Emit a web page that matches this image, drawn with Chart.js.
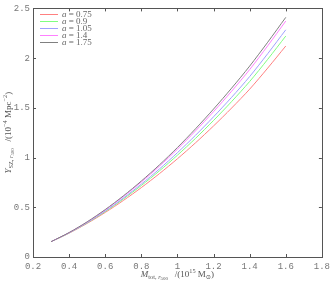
<!DOCTYPE html>
<html><head><meta charset="utf-8">
<script src="https://cdn.jsdelivr.net/npm/chart.js@4"></script>
<style>html,body{margin:0;padding:0;background:#fff}#wrap{width:334px;height:281px}</style>
</head><body><div id="wrap"><canvas id="c" width="334" height="281"></canvas></div>
<script>
const massValues = [0.3,0.4,0.5,0.6,0.7,0.8,0.9,1.0,1.1,1.2,1.3,1.4,1.5,1.6];
const aLabels = ['0.75','0.9','1.05','1.4','1.75'];
const yA075 = [0.154,0.240,0.338,0.448,0.568,0.698,0.838,0.988,1.148,1.318,1.498,1.688,1.900,2.122];
const yA090 = [0.154,0.242,0.343,0.457,0.583,0.719,0.866,1.024,1.193,1.373,1.563,1.765,1.988,2.222];
const yA105 = [0.154,0.243,0.346,0.463,0.592,0.733,0.885,1.049,1.224,1.410,1.606,1.815,2.045,2.285];
const yA140 = [0.154,0.245,0.351,0.472,0.607,0.754,0.913,1.084,1.268,1.462,1.667,1.885,2.124,2.373];
const yA175 = [0.154,0.246,0.354,0.477,0.614,0.764,0.926,1.101,1.289,1.488,1.698,1.920,2.160,2.410];
const xTicks = [0.2,0.4,0.6,0.8,1,1.2,1.4,1.6,1.8];
const yTicks = [0,0.5,1,1.5,2,2.5];
const colors = ['#ff8080','#80ff80','#a0a0ff','#ff80ff','#808080'];
const seriesList = [yA075,yA090,yA105,yA140,yA175];

const datasets = seriesList.map((s,i)=>({
  label: 'a = '+aLabels[i],
  data: massValues.map((m,j)=>({x:m,y:s[j]})),
  borderColor: colors[i], borderWidth: 1, pointRadius: 0, fill:false,
  tension: 0.3, order: 5-i
}));

function drawRich(ctx, parts, cx, cy, base){
  const fam = '"Liberation Serif","DejaVu Serif",serif';
  function fontOf(p){ const sz = p.s==='n'?base:(p.s==='ss'?base*0.55:base*0.7); return (p.i?'italic ':'')+sz+'px '+fam; }
  function dy(p){ return p.s==='sub'?base*0.3:(p.s==='ss'?base*0.45:(p.s==='sup'?-base*0.4:0)); }
  let w=0; parts.forEach(p=>{ctx.font=fontOf(p); w+=ctx.measureText(p.t).width;});
  let x=cx-w/2;
  ctx.textBaseline='middle'; ctx.textAlign='left';
  parts.forEach(p=>{ctx.font=fontOf(p); ctx.fillText(p.t,x,cy+dy(p)); x+=ctx.measureText(p.t).width;});
}

const decor = {
  id:'decor',
  afterDraw(chart){
    const ctx=chart.ctx, a=chart.chartArea, xs=chart.scales.x, ys=chart.scales.y;
    ctx.save();
    ctx.strokeStyle='#555'; ctx.lineWidth=1;
    ctx.strokeRect(Math.round(a.left)+0.5, Math.round(a.top)+0.5, Math.round(a.right-a.left), Math.round(a.bottom-a.top));
    ctx.beginPath();
    xTicks.forEach(v=>{const px=Math.round(xs.getPixelForValue(v))+0.5;
      ctx.moveTo(px,a.bottom); ctx.lineTo(px,a.bottom-3);
      ctx.moveTo(px,a.top); ctx.lineTo(px,a.top+3);});
    yTicks.forEach(v=>{const py=Math.round(ys.getPixelForValue(v))+0.5;
      ctx.moveTo(a.left,py); ctx.lineTo(a.left+3,py);
      ctx.moveTo(a.right,py); ctx.lineTo(a.right-3,py);});
    ctx.stroke();
    // legend
    const lx=a.left+7, ly=a.top+6;
    chart.data.datasets.forEach((d,i)=>{
      const y=Math.round(ly+i*7)+0.5;
      ctx.strokeStyle=d.borderColor; ctx.beginPath(); ctx.moveTo(lx,y); ctx.lineTo(lx+18,y); ctx.stroke();
      ctx.fillStyle='#666'; ctx.textBaseline='middle'; ctx.textAlign='left';
      ctx.font='italic 9px "Liberation Serif","DejaVu Serif",serif';
      ctx.fillText('a',lx+22,y);
      const w=ctx.measureText('a').width;
      ctx.font='9px "Liberation Serif","DejaVu Serif",serif';
      ctx.fillText(' = '+aLabels[i],lx+22+w,y);
    });
    // axis titles
    ctx.fillStyle='#555';
    drawRich(ctx,[{t:'M',s:'n',i:true},{t:'tot, ',s:'sub'},{t:'r',s:'sub',i:true},{t:'500',s:'ss'},{t:'   /(10',s:'n'},{t:'15',s:'sup'},{t:' M',s:'n'},{t:'\u2299',s:'sub'},{t:')',s:'n'}],(a.left+a.right)/2,275,9);
    ctx.translate(9,(a.top+a.bottom)/2); ctx.rotate(-Math.PI/2);
    drawRich(ctx,[{t:'Y',s:'n',i:true},{t:'SZ, ',s:'sub'},{t:'r',s:'sub',i:true},{t:'500',s:'ss'},{t:'   /(10',s:'n'},{t:'\u22124',s:'sup'},{t:' Mpc',s:'n'},{t:'\u22122',s:'sup'},{t:')',s:'n'}],0,0,9);
    ctx.restore();
  }
};

new Chart(document.getElementById('c'),{
  type:'line',
  data:{datasets},
  options:{
    responsive:false, animation:false, devicePixelRatio:1,
    layout:{padding:{left:0,top:8,right:11,bottom:0}},
    plugins:{legend:{display:false},tooltip:{enabled:false}},
    scales:{
      x:{type:'linear',min:0.2,max:1.8,
        afterBuildTicks(s){s.ticks=xTicks.map(v=>({value:v}));},
        afterFit(s){s.height=24;},
        grid:{display:false,drawTicks:false},border:{display:false},
        ticks:{padding:4,color:'#777',maxRotation:0,autoSkip:false,font:{family:'"Liberation Mono","DejaVu Sans Mono",monospace',size:9},callback:v=>String(v)}},
      y:{type:'linear',min:0,max:2.5,
        afterBuildTicks(s){s.ticks=yTicks.map(v=>({value:v}));},
        afterFit(s){s.width=33;},
        grid:{display:false,drawTicks:false},border:{display:false},
        ticks:{padding:3,color:'#777',autoSkip:false,font:{family:'"Liberation Mono","DejaVu Sans Mono",monospace',size:9},callback:v=>String(v)}}
    }
  },
  plugins:[decor]
});
</script></body></html>
